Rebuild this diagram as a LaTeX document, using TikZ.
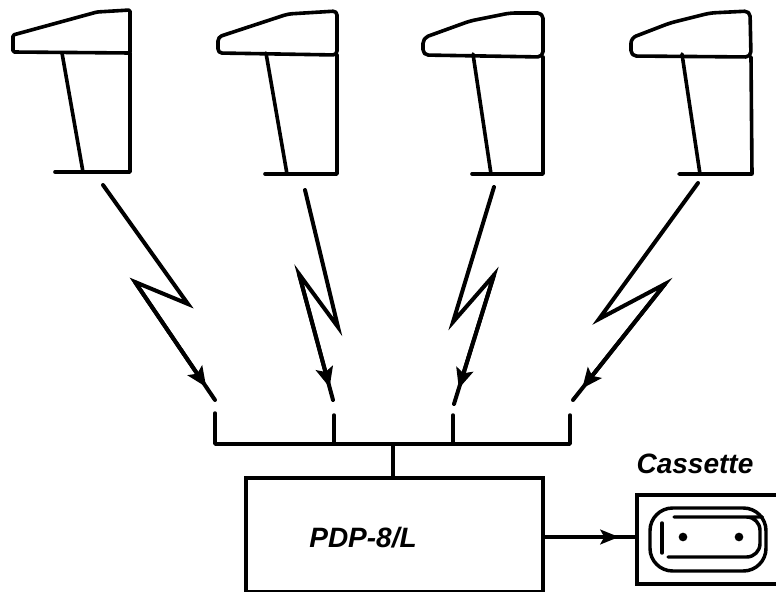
\documentclass[tikz,border=0pt]{standalone}
\usepackage{fontspec}
\setmainfont{Liberation Sans}
\usetikzlibrary{arrows.meta, positioning, calc}

\begin{document}
\begin{tikzpicture}[
  x=0.75pt, y=-0.75pt,
  term/.style={line width=2.7pt, line join=round, line cap=round},
  bolt/.style={line width=3pt, line join=miter, line cap=round},
  boltarr/.style={bolt, -{Stealth[length=15pt, width=13pt, inset=3pt]}},
  wire/.style={line width=2.6pt, line cap=round, line join=round},
  reelline/.style={wire, line width=2.6pt},
  box/.style={draw, line width=3pt, minimum height=0pt, inner sep=0pt, anchor=north west},
  lbl/.style={font=\fontsize{21}{24}\selectfont\bfseries\itshape, inner sep=0pt},
  hole/.style={circle, fill=black, minimum size=6.5pt, inner sep=0pt},
]
\clip (0,0) rectangle (776,592);
\fill[white] (0,0) rectangle (776,592);

% --- terminals along the top ---
\draw[term, rounded corners=1pt] (13,35) -- (13,52) -- (130,53) -- (130,10) -- (97,12) -- cycle;
\draw[term] (130,53) -- (130,172) -- (55,172);
\draw[term] (62,53) -- (83,172);

\draw[term, rounded corners=3pt] (218,37) -- (218,53) -- (337,55) -- (337,11) -- (288,14) -- cycle;
\draw[term] (337,55) -- (337,174) -- (265,174);
\draw[term] (266,53) -- (287,174);

\draw[term, rounded corners=4pt] (423,38) -- (423,55) -- (543,57) -- (543,13) -- (510,13) -- (470,21) -- cycle;
\draw[term] (543,57) -- (543,174) -- (472,174);
\draw[term] (473,54) -- (491,174);

\draw[term, rounded corners=4pt] (631,38) -- (631,56) -- (751,57) -- (750,11) -- (710,13) -- (670,23) -- cycle;
\draw[term] (751,57) -- (752,174) -- (679,174);
\draw[term] (682,54) -- (700,174);

% --- bolts: start, two kinks, free end, arrow tip on the last leg ---
\coordinate (bolt1a) at (103,185);
\coordinate (bolt1b) at (188,304);
\coordinate (bolt1c) at (135,282);
\coordinate (bolt1e) at (215,400);
\coordinate (bolt1d) at ($(bolt1c)!0.89!(bolt1e)$);
\draw[boltarr] (bolt1a) -- (bolt1b) -- (bolt1c) -- (bolt1d);
\draw[bolt] (bolt1c) -- (bolt1e);

\coordinate (bolt2a) at (305,190);
\coordinate (bolt2b) at (338,327);
\coordinate (bolt2c) at (299,274);
\coordinate (bolt2e) at (333,400);
\coordinate (bolt2d) at ($(bolt2c)!0.9!(bolt2e)$);
\draw[boltarr] (bolt2a) -- (bolt2b) -- (bolt2c) -- (bolt2d);
\draw[bolt] (bolt2c) -- (bolt2e);

\coordinate (bolt3a) at (494,187);
\coordinate (bolt3b) at (453,322);
\coordinate (bolt3c) at (494,275);
\coordinate (bolt3e) at (454,404);
\coordinate (bolt3d) at ($(bolt3c)!0.88!(bolt3e)$);
\draw[boltarr] (bolt3a) -- (bolt3b) -- (bolt3c) -- (bolt3d);
\draw[bolt] (bolt3c) -- (bolt3e);

\coordinate (bolt4a) at (698,183);
\coordinate (bolt4b) at (599,319);
\coordinate (bolt4c) at (665,284);
\coordinate (bolt4e) at (573,400);
\coordinate (bolt4d) at ($(bolt4c)!0.9!(bolt4e)$);
\draw[boltarr] (bolt4a) -- (bolt4b) -- (bolt4c) -- (bolt4d);
\draw[bolt] (bolt4c) -- (bolt4e);

% --- computer and cassette ---
\node[box, minimum width=222.75pt, minimum height=85.5pt] (pdp) at (244,476) {};
\node[lbl] (pdplabel) at (363,537.5) {PDP-8/L};
\node[box, minimum width=110pt, minimum height=66.5pt] (cassette) at (635,493) {};
\node[lbl] (cassettelabel) at (695,463.5) {Cassette};

% --- bus ---
\coordinate (stub1) at (215,413);
\coordinate (stub2) at (334,415);
\coordinate (stub3) at (453,415);
\coordinate (stub4) at (570,415);
\coordinate (bus) at (393,444);
\draw[wire] (stub1) |- (stub4 |- bus) -- (stub4);
\draw[wire] (stub2) -- (stub2 |- bus);
\draw[wire] (stub3) -- (stub3 |- bus);
\draw[wire] (bus) -- (bus |- pdp.north);

\coordinate (feed) at (0,537);
\coordinate (feedtip) at (619,537);
\draw[wire, -{Stealth[length=14pt, width=11pt, inset=3pt]}] (pdp.east |- feed) -- (feedtip);
\draw[wire] (pdp.east |- feed) -- (cassette.west |- feed);

% --- reel window inside the cassette ---
\draw[reelline, rounded corners=17pt] (650,508) rectangle (766,571);
\draw[reelline, rounded corners=10pt] (674,517) -- (749,517) -- (760,517) -- (760,557) -- (668,557);
\draw[reelline] (662,523) -- (662,553);
\node[hole] (reel1) at (683,537) {};
\node[hole] (reel2) at (739,537) {};

\end{tikzpicture}
\end{document}
